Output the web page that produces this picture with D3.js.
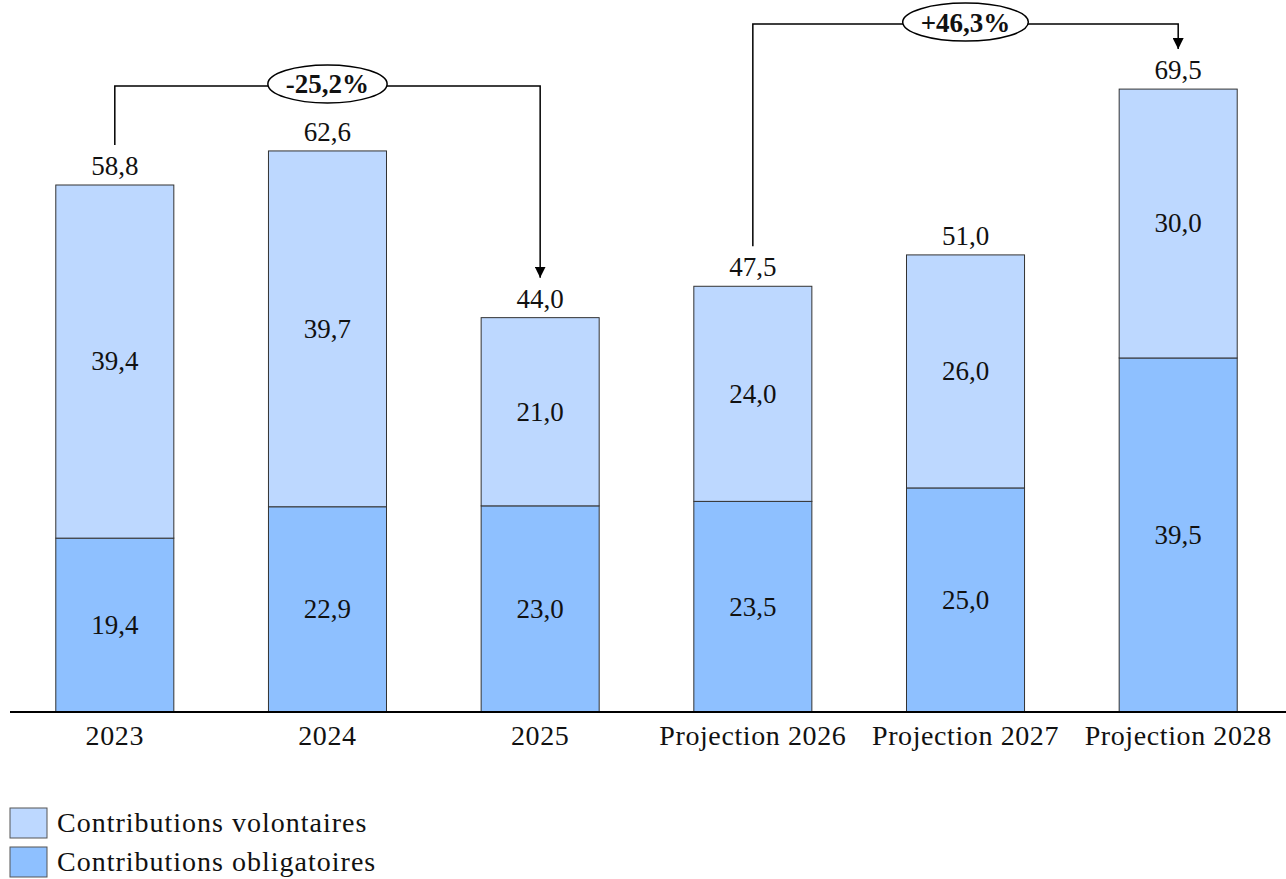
<!DOCTYPE html>
<html>
<head>
<meta charset="utf-8">
<script src="https://cdn.jsdelivr.net/npm/d3@7"></script>
<style>
  body { margin: 0; background: #fff; }
  text { font-family: "Liberation Serif", "DejaVu Serif", serif; fill: #111; }
</style>
</head>
<body>
<svg id="chart" width="1286" height="879"></svg>
<script>
const categories = ["2023", "2024", "2025", "Projection 2026", "Projection 2027", "Projection 2028"];
const obligatoires = [19.4, 22.9, 23.0, 23.5, 25.0, 39.5];
const volontaires = [39.4, 39.7, 21.0, 24.0, 26.0, 30.0];
const totals = [58.8, 62.6, 44.0, 47.5, 51.0, 69.5];
const seriesNames = ["Contributions volontaires", "Contributions obligatoires"];
const changes = [
    { from: 0, to: 2, label: "-25,2%" },
    { from: 3, to: 5, label: "+46,3%" }
];

const colLight = "#bdd8ff";
const colDark = "#8ec0ff";

const svg = d3.select("#chart");
const baseY = 712;

const x = d3.scaleBand().domain(categories).range([9, 1284]).paddingInner(0.445).paddingOuter(0.22);
const y = d3.scaleLinear().domain([0, 58.8]).range([baseY, 185]);

const fmt = v => d3.format(".1f")(v).replace(".", ",");

const data = categories.map((c, i) => ({ cat: c, obl: obligatoires[i], vol: volontaires[i], total: totals[i] }));

const g = svg.append("g");

// obligatoires (bottom)
g.selectAll("rect.obl")
    .data(data)
    .enter()
    .append("rect")
    .attr("class", "obl")
    .attr("x", d => x(d.cat))
    .attr("width", x.bandwidth())
    .attr("y", d => y(d.obl))
    .attr("height", d => baseY - y(d.obl))
    .attr("fill", colDark)
    .attr("stroke", "#333")
    .attr("stroke-width", 1);

// volontaires (top)
g.selectAll("rect.vol")
    .data(data)
    .enter()
    .append("rect")
    .attr("class", "vol")
    .attr("x", d => x(d.cat))
    .attr("width", x.bandwidth())
    .attr("y", d => y(d.obl + d.vol))
    .attr("height", d => y(d.obl) - y(d.obl + d.vol))
    .attr("fill", colLight)
    .attr("stroke", "#333")
    .attr("stroke-width", 1);

const cx = d => x(d.cat) + x.bandwidth() / 2;

g.selectAll("text.obl")
    .data(data)
    .enter()
    .append("text")
    .attr("x", cx)
    .attr("y", d => (y(d.obl) + baseY) / 2)
    .attr("dy", "0.33em")
    .attr("text-anchor", "middle")
    .attr("font-size", 27)
    .text(d => fmt(d.obl));

g.selectAll("text.vol")
    .data(data)
    .enter()
    .append("text")
    .attr("x", cx)
    .attr("y", d => (y(d.obl) + y(d.obl + d.vol)) / 2)
    .attr("dy", "0.33em")
    .attr("text-anchor", "middle")
    .attr("font-size", 27)
    .text(d => fmt(d.vol));

g.selectAll("text.total")
    .data(data)
    .enter()
    .append("text")
    .attr("x", cx)
    .attr("y", d => y(d.total) - 10)
    .attr("text-anchor", "middle")
    .attr("font-size", 27)
    .text(d => fmt(d.total));

// x axis
svg.append("line")
    .attr("x1", 10).attr("x2", 1286)
    .attr("y1", baseY).attr("y2", baseY)
    .attr("stroke", "#000").attr("stroke-width", 2);

svg.selectAll("text.cat")
    .data(categories)
    .enter()
    .append("text")
    .attr("x", d => x(d) + x.bandwidth() / 2)
    .attr("y", 745)
    .attr("text-anchor", "middle")
    .attr("font-size", 28)
    .attr("letter-spacing", 0.6)
    .text(d => d);

// change annotations
svg.append("defs").append("marker")
    .attr("id", "arrow")
    .attr("viewBox", "0 0 10 10")
    .attr("refX", 10).attr("refY", 5)
    .attr("markerWidth", 11).attr("markerHeight", 11)
    .attr("markerUnits", "userSpaceOnUse")
    .attr("orient", "auto")
    .append("path")
    .attr("d", "M0,0L10,5L0,10z")
    .attr("fill", "#000");

changes.forEach(ch => {
    const a = data[ch.from], b = data[ch.to];
    const xa = cx(a), xb = cx(b);
    const topY = y(Math.max(...totals.slice(ch.from, ch.to + 1))) - 65;
    const startY = y(a.total) - 40;
    const endY = y(b.total) - 40;
    svg.append("path")
        .attr("d", `M${xa},${startY}V${topY}H${xb}V${endY}`)
        .attr("fill", "none")
        .attr("stroke", "#000")
        .attr("stroke-width", 1.5)
        .attr("marker-end", "url(#arrow)");
    const mx = (xa + xb) / 2;
    const ell = svg.append("ellipse")
        .attr("cx", mx).attr("cy", topY - 2)
        .attr("ry", 19)
        .attr("fill", "#fff")
        .attr("stroke", "#000")
        .attr("stroke-width", 1.5);
    const t = svg.append("text")
        .attr("x", mx).attr("y", topY - 2)
        .attr("dy", "0.35em")
        .attr("text-anchor", "middle")
        .attr("font-size", 27)
        .attr("font-weight", "bold")
        .text(ch.label);
    ell.attr("rx", t.node().getComputedTextLength() / 2 + 18);
});

// legend
const legend = svg.append("g").attr("transform", "translate(10,808)");
const legendColors = [colLight, colDark];
seriesNames.forEach((s, i) => {
    legend.append("rect")
        .attr("x", 0).attr("y", i * 39)
        .attr("width", 37).attr("height", 30)
        .attr("fill", legendColors[i])
        .attr("stroke", "#555");
    legend.append("text")
        .attr("x", 47).attr("y", i * 39 + 15)
        .attr("dy", "0.33em")
        .attr("font-size", 28)
        .attr("letter-spacing", 1)
        .text(s);
});
</script>
</body>
</html>
